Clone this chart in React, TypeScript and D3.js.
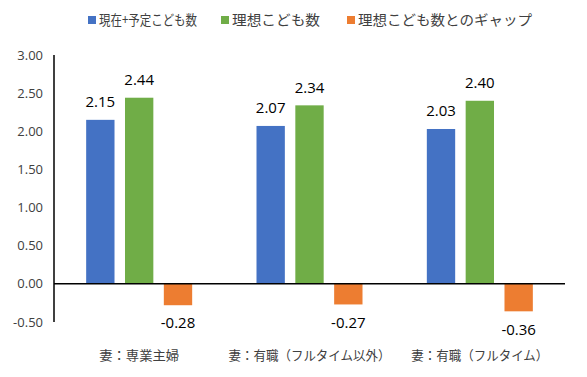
import React from "react";
import * as d3 from "d3";

const categories = ["妻：専業主婦", "妻：有職（フルタイム以外）", "妻：有職（フルタイム）"];
const seriesNames = ["現在+予定こども数", "理想こども数", "理想こども数とのギャップ"];
const current = [2.15, 2.07, 2.03];
const ideal = [2.44, 2.34, 2.4];
const gap = [-0.28, -0.27, -0.36];
const yTicks = [-0.5, 0, 0.5, 1, 1.5, 2, 2.5, 3];
const colors = ["#4472C4", "#70AD47", "#ED7D31"];

export default function App() {
  const W = 587, H = 377;
  const left = 54, right = 565, top = 55, bottom = 322;
  const y = d3.scaleLinear().domain([-0.5, 3]).range([bottom, top]);
  const x = d3.scaleBand<string>().domain(categories).range([left, right]).paddingInner(0).paddingOuter(0);
  const series = [current, ideal, gap];
  const inner = d3.scaleBand<number>().domain([0, 1, 2]).range([0, 106]).paddingInner(0.27).paddingOuter(0);
  const font = "'Open Sans', 'Noto Sans CJK JP', sans-serif";
  const cjk = "'Noto Sans CJK JP', sans-serif";
  const legendX = [88, 221, 347];
  const legendW = [98, 88, 174];
  const catW = [80, 162, 137];
  return (
    <svg width={W} height={H} style={{ position: "absolute", left: 0, top: 0, background: "#fff" }}>
      {yTicks.map((t) => (
        <text key={t} x={43} y={y(t)} dy="0.35em" textAnchor="end" fontSize={13} fill="#404040" fontFamily={font}>
          {t.toFixed(2)}
        </text>
      ))}
      {categories.map((c, ci) => {
        const gx = x(c)! + x.bandwidth() / 2 - 53;
        return (
          <g key={c}>
            {series.map((s, si) => {
              const v = s[ci];
              const bx = gx + inner(si)!;
              const bw = inner.bandwidth();
              const y0 = y(0), y1 = y(v);
              return (
                <g key={si}>
                  <rect x={bx} y={Math.min(y0, y1)} width={bw} height={Math.abs(y1 - y0)} fill={colors[si]} />
                  <text
                    x={bx + bw / 2}
                    y={v >= 0 ? y1 - 18 : y1 + 18}
                    dy="0.35em"
                    textAnchor="middle"
                    fontSize={15}
                    fill="#000"
                    fontFamily={font}
                  >
                    {v.toFixed(2)}
                  </text>
                </g>
              );
            })}
            <text
              x={x(c)! + x.bandwidth() / 2 - catW[ci] / 2}
              y={355}
              dy="0.35em"
              fontSize={13}
              fill="#404040"
              fontFamily={cjk}
              textLength={catW[ci]}
              lengthAdjust="spacingAndGlyphs"
            >
              {c}
            </text>
          </g>
        );
      })}
      <line x1={left} x2={left} y1={top} y2={bottom} stroke="#000" strokeWidth={1.5} />
      <line x1={left} x2={right} y1={y(0)} y2={y(0)} stroke="#000" strokeWidth={1.5} />
      {seriesNames.map((n, i) => (
        <g key={n}>
          <rect x={legendX[i]} y={16} width={8} height={8} fill={colors[i]} />
          <text
            x={legendX[i] + 11}
            y={20}
            dy="0.35em"
            fontSize={14}
            fill="#404040"
            fontFamily={cjk}
            textLength={legendW[i]}
            lengthAdjust="spacingAndGlyphs"
          >
            {n}
          </text>
        </g>
      ))}
    </svg>
  );
}
